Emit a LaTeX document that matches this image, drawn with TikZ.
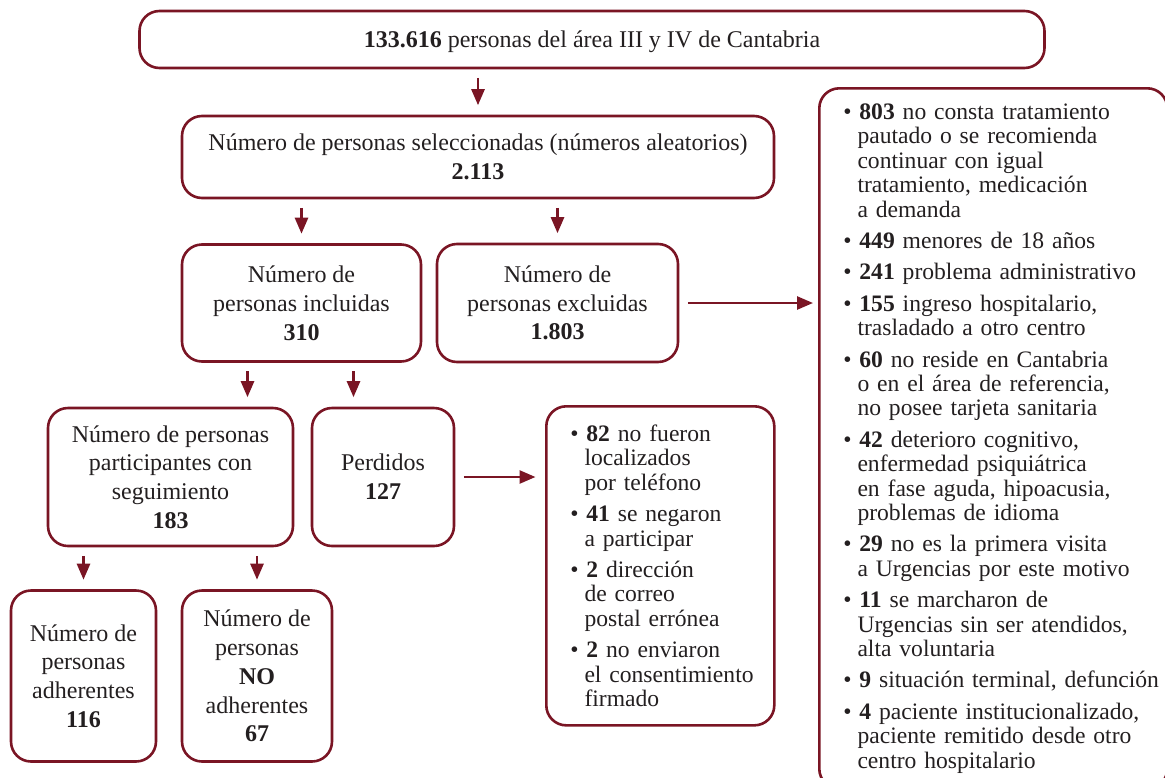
\documentclass[tikz,border=0pt]{standalone}
\usepackage{fontspec}
\setmainfont{Liberation Serif}
\usepackage{xcolor}
\usetikzlibrary{arrows.meta}
\definecolor{wine}{RGB}{122,21,36}
\definecolor{ink}{RGB}{35,31,32}
\newcommand{\itm}[2]{\hangindent=14.2pt\hangafter=1\textbullet\ \textbf{#1} #2\par}
\tikzset{
    box_node/.style = {draw=wine, line width=2.6pt, rounded corners=20pt, align=center, inner sep=0pt, text=ink, font=\fontsize{24}{28.8}\selectfont},
    list_node/.style = {draw=wine, line width=2.6pt, rounded corners=20pt, align=left, anchor=north west, inner xsep=1pt, text=ink, font=\fontsize{23.6}{24.4}\selectfont,
        execute at begin node={\setlength{\parskip}{7pt}\setlength{\leftskip}{23pt}\hyphenpenalty=10000\exhyphenpenalty=10000}},
    flow/.style = {->, draw=wine, line width=2.6pt, shorten <=8.5pt, shorten >=9.5pt}
}

\begin{document}
\begin{tikzpicture}[x=1pt, y=-1pt, >={Triangle[length=16pt,width=13pt]}]
\useasboundingbox (0,0) rectangle (1165,777);
% boxes of the flow
\node [box_node, minimum width=905pt, minimum height=57pt, text height=16pt, text depth=0pt] (total) at (592,39.5)
    {\textbf{133.616} personas del área III y IV de Cantabria};
\node [box_node, minimum width=592pt, minimum height=82pt] (sel) at (478,157)
    {Número de personas seleccionadas (números aleatorios)\\ \textbf{2.113}};
\node [box_node, minimum width=239pt, minimum height=117pt] (inc) at (301.5,303)
    {Número de\\ personas incluidas\\ \textbf{310}};
\node [box_node, minimum width=241pt, minimum height=118pt] (exc) at (557.5,303)
    {Número de\\ personas excluidas\\ \textbf{1.803}};
\node [box_node, minimum width=245pt, minimum height=138pt] (part) at (170.5,477)
    {Número de personas\\ participantes con\\ seguimiento\\ \textbf{183}};
\node [box_node, minimum width=142pt, minimum height=138pt] (perd) at (383,477)
    {Perdidos\\ \textbf{127}};
\node [box_node, minimum width=145pt, minimum height=171pt] (adh) at (83.5,676)
    {Número de\\ personas\\ adherentes\\ \textbf{116}};
\node [box_node, minimum width=150pt, minimum height=171pt] (noadh) at (257,676)
    {Número de\\ personas\\ \textbf{NO}\\ adherentes\\ \textbf{67}};
% lists of reasons
\node [list_node, text width=226pt, inner ysep=18.6pt] (lost) at (545,405) {%
    \itm{82}{no fueron\newline localizados\newline por teléfono}
    \itm{41}{se negaron\newline a participar}
    \itm{2}{dirección\newline de correo\newline postal errónea}
    \itm{2}{no enviaron\newline el consentimiento\newline firmado}};
\node [list_node, text width=346pt, inner ysep=15.6pt] (excl) at (818,87) {%
    \itm{803}{no consta tratamiento\newline pautado o se recomienda\newline continuar con igual\newline tratamiento, medicación\newline a demanda}
    \itm{449}{menores de 18 años}
    \itm{241}{problema administrativo}
    \itm{155}{ingreso hospitalario,\newline trasladado a otro centro}
    \itm{60}{no reside en Cantabria\newline o en el área de referencia,\newline no posee tarjeta sanitaria}
    \itm{42}{deterioro cognitivo,\newline enfermedad psiquiátrica\newline en fase aguda, hipoacusia,\newline problemas de idioma}
    \itm{29}{no es la primera visita\newline a Urgencias por este motivo}
    \itm{11}{se marcharon de\newline Urgencias sin ser atendidos,\newline alta voluntaria}
    \itm{9}{situación terminal, defunción}
    \itm{4}{paciente institucionalizado,\newline paciente remitido desde otro\newline centro hospitalario}};
% arrows
\draw [flow] (total.south -| sel.north) -- (sel.north);
\draw [flow] (sel.south -| inc.north) -- (inc.north);
\draw [flow] (sel.south -| exc.north) -- (exc.north);
\draw [flow, shorten >=5pt] (exc.east) -- (exc.east -| excl.west);
\draw [flow] ([xshift=-54pt]inc.south) -- ([xshift=-54pt]inc.south |- part.north);
\draw [flow] ([xshift=52pt]inc.south) -- ([xshift=52pt]inc.south |- perd.north);
\draw [flow] (perd.east) -- (perd.east -| lost.west);
\draw [flow] (part.south -| adh.north) -- (adh.north);
\draw [flow] (part.south -| noadh.north) -- (noadh.north);
\end{tikzpicture}
\end{document}
